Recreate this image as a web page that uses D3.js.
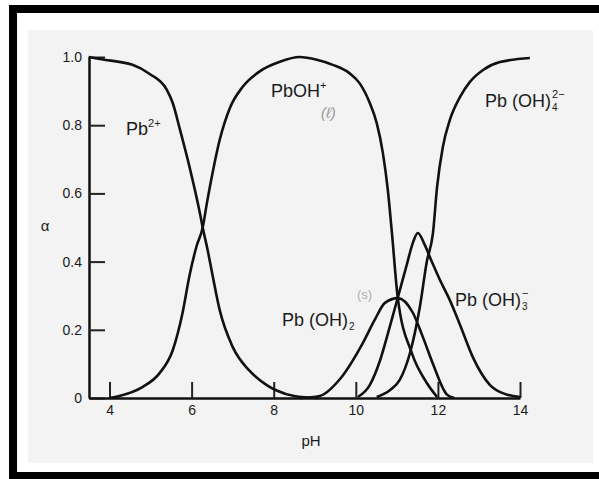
<!DOCTYPE html>
<html>
<head>
<meta charset="utf-8">
<script src="https://cdn.jsdelivr.net/npm/d3@7"></script>
<style>
  body { margin: 0; background: #fff; }
  svg { display: block; }
  text { font-family: "Liberation Sans", Arial, sans-serif; fill: #1a1a1a; }
</style>
</head>
<body>
<script>
// pH / fraction pairs, one array per species
var pb2 = [[3.49,1.0],[3.76,0.994],[4.56,0.977],[4.98,0.95],[5.39,0.905],[5.54,0.865],[5.71,0.79],
  [5.95,0.677],[6.20,0.543],[6.27,0.50],[6.39,0.434],[6.51,0.36],[6.68,0.26],[7.0,0.15],[7.41,0.08],
  [7.83,0.038],[8.07,0.022],[8.5,0.006],[9.1,0]];
var pbOH = [[4.0,0],[4.24,0.006],[4.8,0.032],[5.22,0.073],[5.54,0.14],[5.78,0.25],[5.95,0.36],
  [6.12,0.445],[6.27,0.50],[6.37,0.57],[6.51,0.66],[6.68,0.755],[6.93,0.85],[7.24,0.912],[7.66,0.958],
  [8.15,0.986],[8.63,1.0],[9.05,0.992],[9.44,0.977],[9.85,0.952],[10.1,0.922],[10.34,0.865],[10.51,0.806],
  [10.66,0.718],[10.78,0.61],[10.88,0.484],[11.02,0.296],[11.37,0.13],[11.73,0.044],[11.98,0.003]];
var pbOH2 = [[8.63,0],[9.12,0.006],[9.61,0.055],[10.17,0.161],[10.46,0.229],[10.71,0.279],[11.02,0.293],
  [11.39,0.25],[11.63,0.18],[11.88,0.10],[12.22,0.01],[12.4,0]];
var pbOH3 = [[10.05,0.003],[10.34,0.038],[10.59,0.11],[10.83,0.21],[11.02,0.293],[11.24,0.39],[11.39,0.455],
  [11.51,0.484],[11.68,0.449],[11.85,0.40],[12.05,0.346],[12.29,0.287],[12.54,0.214],[12.85,0.12],
  [13.27,0.038],[13.63,0.012],[14.0,0.003]];
var pbOH4 = [[10.51,0.003],[10.83,0.023],[11.07,0.053],[11.32,0.132],[11.56,0.267],[11.73,0.40],[11.88,0.484],
  [11.98,0.619],[12.12,0.736],[12.29,0.815],[12.54,0.883],[12.78,0.927],[13.1,0.962],[13.51,0.985],[14.24,0.997]];

var xTicks = [4, 6, 8, 10, 12, 14];
var yTicks = [0, 0.2, 0.4, 0.6, 0.8, 1.0];
var yTickLabels = ["0", "0.2", "0.4", "0.6", "0.8", "1.0"];

var width = 599, height = 479;

var svg = d3.select("body").append("svg")
    .attr("width", width)
    .attr("height", height);

// frame and paper
svg.append("rect").attr("x", 9).attr("y", 5).attr("width", 600).attr("height", 480).attr("fill", "#000");
svg.append("rect").attr("x", 17).attr("y", 13).attr("width", 600).attr("height", 459).attr("fill", "#fff");
svg.append("rect").attr("x", 28).attr("y", 30).attr("width", 565).attr("height", 433).attr("fill", "#f3f3f3");

var x = d3.scaleLinear().domain([3.5, 14]).range([89, 520]);
var y = d3.scaleLinear().domain([0, 1]).range([398, 57]);

var yAxis = d3.axisLeft(y)
    .tickValues(yTicks)
    .tickFormat(function (d, i) { return yTickLabels[i]; })
    .tickSizeInner(-16)
    .tickSizeOuter(0)
    .tickPadding(7);

var xAxis = d3.axisBottom(x)
    .tickValues(xTicks)
    .tickSizeInner(-16)
    .tickSizeOuter(0)
    .tickPadding(7);

var gy = svg.append("g").attr("transform", "translate(89,0)").call(yAxis);
var gx = svg.append("g").attr("transform", "translate(0,398)").call(xAxis);

[gx, gy].forEach(function (g) {
    g.select(".domain").attr("stroke", "#111").attr("stroke-width", 2.5);
    g.selectAll(".tick line").attr("stroke", "#222").attr("stroke-width", 2);
    g.selectAll(".tick text")
        .style("font-family", "'Liberation Sans', Arial, sans-serif")
        .attr("font-size", 14)
        .attr("fill", "#222");
});

// curves
var line = d3.line()
    .x(function (d) { return x(d[0]); })
    .y(function (d) { return y(d[1]); })
    .curve(d3.curveMonotoneX);

[pb2, pbOH, pbOH2, pbOH3, pbOH4].forEach(function (s) {
    svg.append("path")
        .datum(s)
        .attr("d", line)
        .attr("fill", "none")
        .attr("stroke", "#111")
        .attr("stroke-width", 2.6)
        .attr("stroke-linejoin", "round");
});

// labels
function species(xp, yp, main, sup, sub) {
    var t = svg.append("text").attr("x", xp).attr("y", yp).attr("font-size", 18);
    t.append("tspan").text(main);
    if (sub) {
        var w = t.node().getComputedTextLength();
        svg.append("text").attr("x", xp + w + 1).attr("y", yp + 4).attr("font-size", 10).text(sub);
        if (sup) svg.append("text").attr("x", xp + w + 1).attr("y", yp - 9).attr("font-size", 11).text(sup);
    } else if (sup) {
        t.append("tspan").attr("dy", -8).attr("font-size", 11).text(sup);
    }
}

species(126, 135, "Pb", "2+");
species(271, 97, "PbOH", "+");
species(485, 107, "Pb (OH)", "2−", "4");
species(282, 326, "Pb (OH)", null, "2");
species(455, 306, "Pb (OH)", "−", "3");

// pencil notes
svg.append("text").attr("x", 321).attr("y", 118).attr("font-size", 15)
    .attr("font-style", "italic").style("fill", "#9a9a9a").text("(ℓ)");
svg.append("text").attr("x", 357).attr("y", 299).attr("font-size", 13)
    .style("fill", "#b0b0b0").text("(s)");

// axis titles
svg.append("text").attr("x", 45).attr("y", 231).attr("font-size", 15).attr("text-anchor", "middle").text("α");
svg.append("text").attr("x", 311).attr("y", 446).attr("font-size", 15).attr("text-anchor", "middle").text("pH");
</script>
</body>
</html>
